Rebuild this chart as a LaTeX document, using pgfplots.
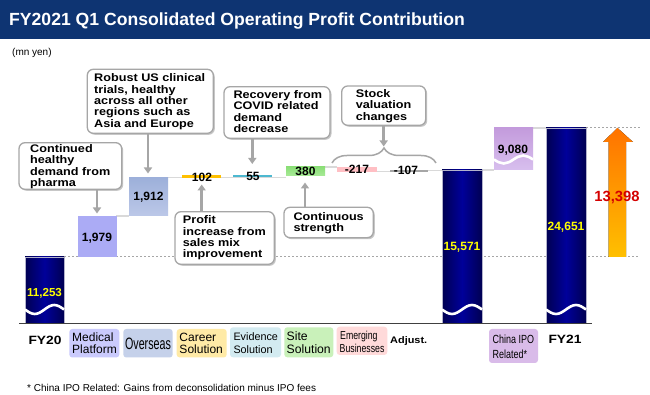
\documentclass[border=0pt]{standalone}
\usepackage{pgfplots}
\pgfplotsset{compat=1.18}
\usepackage{fontspec}
\setmainfont{Liberation Sans}
\newfontfamily\wf[FakeStretch=1.15]{Liberation Sans}
\newfontfamily\nf[FakeStretch=0.65]{Liberation Sans}
\newfontfamily\mf[FakeStretch=0.76]{Liberation Sans}
\usetikzlibrary{arrows.meta,decorations.pathreplacing}
\newcommand\fs[2]{\fontsize{#1bp}{#2bp}\selectfont}
\definecolor{titleblue}{HTML}{0E3472}
\definecolor{navyD}{HTML}{000052}
\definecolor{navyL}{HTML}{00009A}
\definecolor{medbar}{HTML}{ABABF5}
\definecolor{ovT}{HTML}{9DB0DA}
\definecolor{ovB}{HTML}{BCC8E8}
\definecolor{career}{HTML}{FFC000}
\definecolor{evid}{HTML}{4DB8D0}
\definecolor{siteT}{HTML}{8CDF78}
\definecolor{siteB}{HTML}{A8EA98}
\definecolor{emerg}{HTML}{FFBFC4}
\definecolor{adj}{HTML}{A6A6A6}
\definecolor{ipoT}{HTML}{C39BDC}
\definecolor{ipoB}{HTML}{D8BFEE}
\definecolor{lMed}{HTML}{CACAFC}
\definecolor{lOv}{HTML}{C5D1EA}
\definecolor{lCar}{HTML}{FFEAA6}
\definecolor{lEvi}{HTML}{D3EBF1}
\definecolor{lSite}{HTML}{C9F1BA}
\definecolor{lEme}{HTML}{FFDADA}
\definecolor{lIpo}{HTML}{D9BBE9}
\definecolor{conn}{HTML}{D9D9D9}
\definecolor{cobord}{HTML}{A6A6A6}
\definecolor{valred}{HTML}{D40000}
\definecolor{valyel}{HTML}{FFFF00}
\tikzset{
  cobox/.style={draw=cobord, line width=1.3bp, rounded corners=6bp, fill=white},
  carrow/.style={draw=cobord, line width=2.6bp, -{Triangle[width=8bp,length=6bp]}},
  ct/.style={anchor=base west, inner sep=0, font=\wf\bfseries\fs{11}{12}},
  val/.style={anchor=base, inner sep=0, font=\bfseries\fs{12}{14}},
  lbox/.style={rounded corners=3bp},
  conn/.style={draw=conn, line width=1.5bp},
  wave/.style={draw=white, line width=2.6bp},
  lt/.style={anchor=base west, inner sep=0},
}
\newcommand\ct[3]{\node[ct] at (#1,#2) {#3};}
\newcommand\cbox[4]{\fill[rounded corners=6bp, black!22] (#1+1.5,#2+1.5) rectangle (#3+1.5,#4+1.5);
  \draw[cobox] (#1,#2) rectangle (#3,#4);}
\newcommand\wavy[4]{% left, right, y0, amplitude
  \draw[wave] (#1,#3) sin ({#1+(#2-#1)/4},#3+#4) cos ({#1+(#2-#1)/2},#3) sin ({#1+3*(#2-#1)/4},#3-#4) cos (#2,#3);}
\begin{document}
\begin{tikzpicture}
\begin{scope}[x=1bp, y=-1bp, shift={(0bp,395bp)}]
  \fill[white] (0,0) rectangle (650,395);
  \fill[titleblue] (0,0) rectangle (650,39);
  \node[anchor=base west, inner sep=0, text=white, font=\bfseries\fs{17.6}{20}] at (9,25.5) {FY2021 Q1 Consolidated Operating Profit Contribution};
  \node[anchor=base west, inner sep=0, font=\fs{10}{12}] at (12,55.5) {(mn yen)};
  % dotted reference lines
  \draw[adj, line width=1bp, dash pattern=on 2bp off 2bp] (64,257) -- (640,257);
  \draw[adj, line width=1bp, dash pattern=on 2bp off 2bp] (586,128) -- (640,128);
  % connectors
  \draw[conn] (116,216) -- (129,216);
  \draw[conn] (168,177.5) -- (286,177.5);
  \draw[conn] (325,167) -- (337,167);
  \draw[conn] (377,171.5) -- (390,171.5);
  \draw[conn] (428,170.5) -- (442,170.5);
  \draw[conn] (482,170) -- (494,170);
  \draw[conn] (533,128) -- (546,128);
\end{scope}
\begin{axis}[at={(0,0)}, anchor=south west, width=650bp, height=395bp, scale only axis,
  xmin=0, xmax=650, ymin=-72, ymax=323, hide axis, clip=false]
  % FY20 11,253
  \addplot[draw=white!70!navyD, line width=0.5bp, left color=navyD, right color=navyD, middle color=navyL]
    coordinates {(25,0) (64,0) (64,66) (25,66)} -- cycle;
  % Medical Platform +1,979
  \addplot[draw=none, fill=medbar] coordinates {(78,66) (116.5,66) (116.5,107) (78,107)} -- cycle;
  % Overseas +1,912
  \addplot[draw=none, top color=ovT, bottom color=ovB] coordinates {(129,107) (168,107) (168,145) (129,145)} -- cycle;
  % Career Solution +102
  \addplot[draw=none, fill=career] coordinates {(182,145) (221,145) (221,147.5) (182,147.5)} -- cycle;
  % Evidence Solution +55
  \addplot[draw=none, fill=evid] coordinates {(233,146) (272,146) (272,148) (233,148)} -- cycle;
  % Site Solution +380
  \addplot[draw=none, top color=siteT, bottom color=siteB] coordinates {(286,147) (325,147) (325,156) (286,156)} -- cycle;
  % Emerging Businesses -217
  \addplot[draw=none, fill=emerg] coordinates {(337,151) (377,151) (377,156) (337,156)} -- cycle;
  % Adjust. -107
  \addplot[draw=none, fill=adj] coordinates {(390,150.5) (428,150.5) (428,152.5) (390,152.5)} -- cycle;
  % 15,571
  \addplot[draw=white!70!navyD, line width=0.5bp, left color=navyD, right color=navyD, middle color=navyL]
    coordinates {(442,0) (482,0) (482,153) (442,153)} -- cycle;
  % China IPO Related +9,080
  \addplot[draw=none, top color=ipoT, bottom color=ipoB] coordinates {(494,153) (533,153) (533,195) (494,195)} -- cycle;
  % FY21 24,651
  \addplot[draw=white!70!navyD, line width=0.5bp, left color=navyD, right color=navyD, middle color=navyL]
    coordinates {(546,0) (586,0) (586,195) (546,195)} -- cycle;
\end{axis}
\begin{scope}[x=1bp, y=-1bp, shift={(0bp,395bp)}]
  % breaks
  \wavy{25}{64}{309.5}{4.5}
  \wavy{442}{482}{309.5}{4.5}
  \wavy{546}{586}{309.5}{4.5}
  \wavy{494}{533}{159.5}{4}
  % baseline
  \draw[black!75, line width=1.5bp] (19,323.5) -- (592,323.5);
  % growth arrow
  \fill[top color=orange!90!red, bottom color=career] (608.5,257) -- (626,257) -- (626,142) -- (633,142) -- (617.5,128) -- (603,142) -- (608.5,142) -- cycle;
  \node[anchor=base, inner sep=0, text=valred, font=\bfseries\fs{14.8}{17}] at (617,201.5) {13,398};
  % values
  \node[val, text=valyel, font=\bfseries\fs{11.6}{14}] at (44.5,296.5) {11,253};
  \node[val] at (97,241.5) {1,979};
  \node[val] at (148.5,201) {1,912};
  \node[val] at (202,181.7) {102};
  \node[val] at (253,180.5) {55};
  \node[val] at (305.5,176) {380};
  \node[val] at (357,174) {-217};
  \node[val] at (406,175) {-107};
  \node[val, text=valyel] at (462,251) {15,571};
  \node[val] at (513,154) {9,080};
  \node[val, text=valyel] at (566,230.5) {24,651};
  % callouts
  \cbox{19}{142.7}{121.7}{189.3}
  \ct{30}{152.7}{Continued}\ct{30}{164}{healthy}\ct{30}{175.3}{demand from}\ct{30}{186.4}{pharma}
  \draw[carrow] (97,190) -- (97,213.5);
  \cbox{87.3}{69.3}{213.3}{133.3}
  \ct{94}{82}{Robust US clinical}\ct{94}{93.3}{trials, healthy}\ct{94}{104.6}{across all other}\ct{94}{115.9}{regions such as}\ct{94}{127.2}{Asia and Europe}
  \draw[carrow] (148,134) -- (148,173.5);
  \cbox{224}{86.7}{330}{138.3}
  \ct{233.3}{98.7}{Recovery from}\ct{233.3}{110}{COVID related}\ct{233.3}{121.3}{demand}\ct{233.3}{132.6}{decrease}
  \draw[carrow] (252.3,139) -- (252.3,164);
  \cbox{341.7}{86}{425.7}{125.3}
  \ct{355.7}{97.7}{Stock}\ct{355.7}{109}{valuation}\ct{355.7}{120.3}{changes}
  \draw[carrow] (383.7,126) -- (383.7,146.5);
  \draw[cobord, line width=1.5bp, decorate, decoration={brace, amplitude=15bp, aspect=0.5}] (332,163) -- (436,163);
  \cbox{175}{211.7}{274.3}{264.3}
  \ct{182.7}{224}{Profit}\ct{182.7}{235.4}{increase from}\ct{182.7}{246.8}{sales mix}\ct{182.7}{258}{improvement}
  \draw[carrow] (201.7,211) -- (201.7,184.5);
  \cbox{284}{207.3}{373.3}{237.7}
  \ct{293.3}{220.7}{Continuous}\ct{293.3}{231.5}{strength}
  \draw[carrow] (305,206.6) -- (305,182.5);
  % category labels
  \node[anchor=base, inner sep=0, font=\wf\bfseries\fs{12}{14}] at (45,344.3) {FY20};
  \fill[lbox, lMed] (69.3,329) rectangle (119.3,357.5);
  \node[lt, font=\fs{12}{12}] at (72,342) {Medical};
  \node[lt, font=\fs{12}{12}] at (72,353.6) {Platform};
  \fill[lbox, lOv] (123.3,329) rectangle (172.7,357.5);
  \node[anchor=base, inner sep=0, font=\nf\fs{16.5}{18}] at (148,350) {Overseas};
  \fill[lbox, lCar] (176.7,329) rectangle (226.7,357.5);
  \node[lt, font=\fs{12}{12}] at (179.3,342) {Career};
  \node[lt, font=\fs{12}{12}] at (179.3,353.6) {Solution};
  \fill[lbox, lEvi] (230,327.3) rectangle (281,357.3);
  \node[lt, font=\fs{10.8}{12}] at (233.3,340.7) {Evidence};
  \node[lt, font=\fs{10.8}{12}] at (233.3,353.3) {Solution};
  \fill[lbox, lSite] (284.3,327.3) rectangle (333.3,357.3);
  \node[lt, font=\fs{12.2}{12}] at (286.5,340.7) {Site};
  \node[lt, font=\fs{12.2}{12}] at (286.5,353.6) {Solution};
  \fill[lbox, lEme] (336.7,326.7) rectangle (387.3,355);
  \node[lt, font=\mf\fs{11.5}{12}] at (340,339.3) {Emerging};
  \node[lt, font=\mf\fs{11.5}{12}] at (339.5,352.7) {Businesses};
  \node[lt, font=\wf\bfseries\fs{9.5}{12}] at (390,343.3) {Adjust.};
  \fill[lbox, lIpo] (489,329) rectangle (538,363);
  \node[lt, font=\mf\fs{11.8}{12}] at (492.5,344) {China IPO};
  \node[lt, font=\mf\fs{11.8}{12}] at (492.5,358.3) {Related*};
  \node[anchor=base, inner sep=0, font=\wf\bfseries\fs{12}{14}] at (565,343.5) {FY21};
  % footnote
  \node[anchor=base west, inner sep=0, font=\fs{10}{12}] at (27,391.5) {* China IPO Related: Gains from deconsolidation minus IPO fees};
\end{scope}
\pgfresetboundingbox
\path (0,0) rectangle (650bp,395bp);
\end{tikzpicture}
\end{document}
